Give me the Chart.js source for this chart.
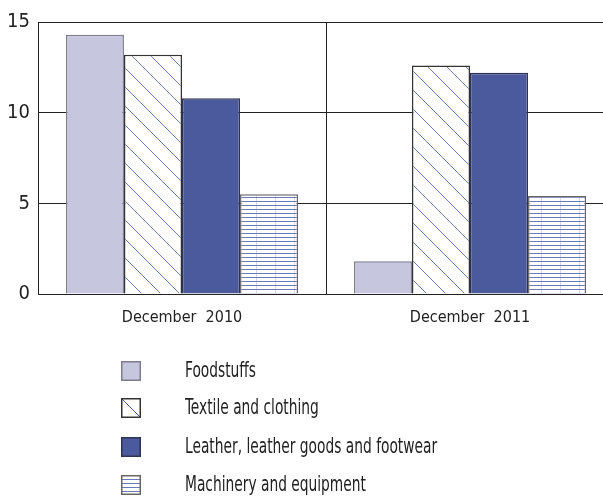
<!DOCTYPE html>
<html>
<head>
<meta charset="utf-8">
<script src="https://cdn.jsdelivr.net/npm/chart.js@4"></script>
<style>
  html, body { margin: 0; padding: 0; background: #fff; overflow: hidden; }
  #wrap { width: 603px; height: 497px; overflow: hidden; position: relative; }
</style>
</head>
<body>
<div id="wrap"><canvas id="chart" width="616" height="497"></canvas></div>
<script>
const categories = ['December  2010', 'December  2011'];
const seriesNames = ['Foodstuffs', 'Textile and clothing', 'Leather, leather goods and footwear', 'Machinery and equipment'];
const foodstuffs = [14.3, 1.8];
const textile = [13.2, 12.6];
const leather = [10.8, 12.2];
const machinery = [5.5, 5.4];
const yTicks = [0, 5, 10, 15];

const FONT = '"Liberation Sans Narrow", "DejaVu Sans Condensed", sans-serif';
const LINE_BLUE = '#4a5aa6';

function diagonalPattern() {
  const c = document.createElement('canvas');
  c.width = 19; c.height = 19;
  const g = c.getContext('2d');
  g.fillStyle = '#fff';
  g.fillRect(0, 0, 19, 19);
  g.strokeStyle = LINE_BLUE;
  g.lineWidth = 0.8;
  g.beginPath();
  g.moveTo(-2, -2); g.lineTo(21, 21);
  g.moveTo(-21, -2); g.lineTo(2, 21);
  g.moveTo(17, -2); g.lineTo(40, 21);
  g.stroke();
  return g.createPattern(c, 'repeat');
}

function stripePattern() {
  const c = document.createElement('canvas');
  c.width = 19; c.height = 4;
  const g = c.getContext('2d');
  g.fillStyle = '#fff';
  g.fillRect(0, 0, 19, 4);
  g.fillStyle = '#d6d9ee';
  g.fillRect(9, 0, 1, 4);
  g.fillStyle = '#6b78ba';
  g.fillRect(0, 1, 19, 1);
  return g.createPattern(c, 'repeat');
}

const fills = ['#c6c7df', diagonalPattern(), '#4b5a9c', stripePattern()];
const borders = ['#7d7d8c', '#333', '#2e3355', '#666'];

// legend drawn below the plot, one item per row; text squeezed to match the narrow face
const sideLegend = {
  id: 'sideLegend',
  afterDraw(chart) {
    const ctx = chart.ctx;
    ctx.save();
    const rows = [371, 408, 447, 485];
    chart.data.datasets.forEach((ds, i) => {
      const y = rows[i];
      const x0 = 121, y0 = y - 10, w = 20;
      ctx.fillStyle = (i === 1 || i === 3) ? '#fff' : ds.backgroundColor;
      ctx.fillRect(x0, y0, w, w);
      ctx.strokeStyle = LINE_BLUE;
      ctx.lineWidth = 1;
      if (i === 1) {
        ctx.beginPath();
        ctx.moveTo(x0 + 1, y0 + 1);
        ctx.lineTo(x0 + w - 1, y0 + w - 1);
        ctx.stroke();
      } else if (i === 3) {
        ctx.strokeStyle = '#6b78ba';
        ctx.beginPath();
        for (let k = 4; k < w; k += 4) {
          ctx.moveTo(x0, y0 + k + 0.5);
          ctx.lineTo(x0 + w, y0 + k + 0.5);
        }
        ctx.stroke();
      }
      ctx.strokeStyle = ds.borderColor;
      ctx.lineWidth = 1.5;
      ctx.strokeRect(x0 + 0.75, y0 + 0.75, w - 1.5, w - 1.5);
      ctx.save();
      ctx.translate(185, y + 1);
      ctx.scale(0.73, 1);
      ctx.fillStyle = '#222';
      ctx.font = '21px ' + FONT;
      ctx.textBaseline = 'middle';
      ctx.fillText(ds.label, 0, 0);
      ctx.restore();
    });
    ctx.restore();
  }
};

const data = {
  labels: categories,
  datasets: [foodstuffs, textile, leather, machinery].map((vals, i) => ({
    label: seriesNames[i],
    data: vals,
    backgroundColor: fills[i],
    borderColor: borders[i],
    borderWidth: 1.5,
    categoryPercentage: 0.806,
    barPercentage: 1
  }))
};

new Chart(document.getElementById('chart'), {
  type: 'bar',
  data,
  plugins: [sideLegend],
  options: {
    responsive: false,
    animation: false,
    layout: { padding: { top: 22, right: 2, bottom: 163, left: 0 } },
    plugins: { legend: { display: false }, tooltip: { enabled: false } },
    scales: {
      x: {
        afterFit: s => { s.height = 40; },
        grid: { color: '#222', lineWidth: 1, drawTicks: false, offset: true },
        border: { color: '#222', width: 1 },
        ticks: { color: '#222', font: { family: FONT, size: 16 }, padding: 14 }
      },
      y: {
        min: 0,
        max: 15,
        afterFit: s => { s.width = 38; },
        afterBuildTicks: s => { s.ticks = yTicks.map(v => ({ value: v })); },
        grid: { color: '#222', lineWidth: 1, drawTicks: false },
        border: { color: '#222', width: 1 },
        ticks: { color: '#222', font: { family: FONT, size: 20 }, padding: 8 }
      }
    }
  }
});
</script>
</body>
</html>
